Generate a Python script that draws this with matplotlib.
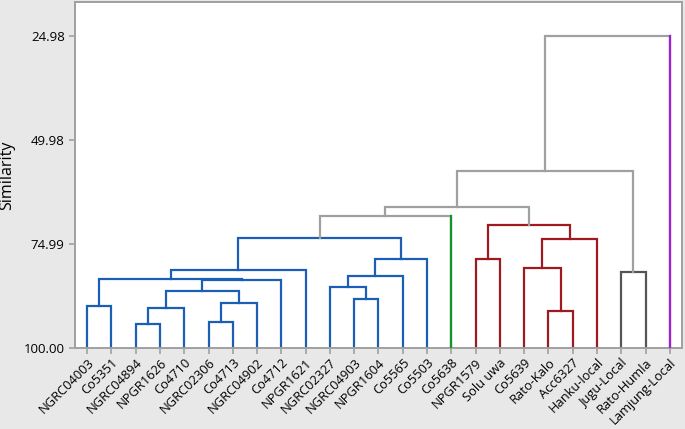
import matplotlib
matplotlib.use("Agg")
import matplotlib.pyplot as plt

plt.rcParams["font.family"] = ["Open Sans", "DejaVu Sans"]

# leaf labels, left to right
labels = [
    "NGRC04003", "Co5351", "NGRC04894", "NPGR1626", "Co4710", "NGRC02306",
    "Co4713", "NGRC04902", "Co4712", "NPGR1621", "NGRC02327", "NGRC04903",
    "NPGR1604", "Co5565", "Co5503", "Co5638", "NPGR1579", "Solu uwa",
    "Co5639", "Rato-Kalo", "Acc6327", "Hanku-local", "Jugu-Local",
    "Rato-Humla", "Lamjung-Local",
]
# cluster of each leaf
leaf_group = [0] * 15 + [1] + [2] * 6 + [3] * 2 + [4]

# merges: node 25 onwards joins merge_a[i] and merge_b[i] at merge_sim[i]
merge_a = [0, 2, 26, 5, 28, 27, 30, 25, 32, 11, 10, 35, 36, 33, 38,
           16, 19, 18, 42, 40, 39, 22, 45, 47]
merge_b = [1, 3, 4, 6, 7, 29, 8, 31, 9, 12, 34, 13, 14, 37, 15,
           17, 20, 41, 21, 43, 44, 23, 46, 24]
merge_sim = [89.90, 94.37, 90.52, 93.89, 89.17, 86.35, 83.71, 83.39, 81.30,
             88.28, 85.39, 82.74, 78.65, 73.72, 68.30,
             78.65, 91.10, 80.82, 73.77, 70.40, 66.21, 81.78, 57.47, 24.98]

yticks = [100.00, 74.99, 49.98, 24.98]

group_colors = ["#1a5eb5", "#13932a", "#a0191e", "#555555", "#a020d0"]
link_gray = "#a0a0a0"

fig = plt.figure(figsize=(6.85, 4.29), dpi=100, facecolor="#e8e8e8")
ax = fig.add_axes([0.1095, 0.1895, 0.886, 0.806])

n = len(labels)
xpos = list(range(n))
ypos = [100.0] * n
grp = list(leaf_group)
for a, b, s in zip(merge_a, merge_b, merge_sim):
    if grp[a] is not None and grp[a] == grp[b]:
        col = group_colors[grp[a]]
        g = grp[a]
    else:
        col = link_gray
        g = None
    ax.plot([xpos[a], xpos[a], xpos[b], xpos[b]], [ypos[a], s, s, ypos[b]],
            color=col, lw=1.6, solid_joinstyle="miter", zorder=2)
    xpos.append((xpos[a] + xpos[b]) / 2)
    ypos.append(s)
    grp.append(g)

# single-leaf clusters drawn in their own colour up to the first merge
for i in range(n):
    if leaf_group.count(leaf_group[i]) == 1:
        for a, b, s in zip(merge_a, merge_b, merge_sim):
            if i in (a, b):
                ax.plot([i, i], [100, s], color=group_colors[leaf_group[i]],
                        lw=1.6, zorder=3)
                break

ax.set_xlim(-0.5, n - 0.5)
ax.set_ylim(100, 16.8)
ax.set_yticks(yticks)
ax.set_yticklabels([f"{v:.2f}" for v in yticks], fontsize=9.5)
ax.set_xticks(range(n))
ax.set_xticklabels(labels, rotation=45, ha="right", rotation_mode="anchor",
                   fontsize=9.3)
ax.tick_params(axis="both", colors="#a0a0a0", labelcolor="black", length=4,
               width=1.2)
ax.tick_params(axis="x", pad=2)
for sp in ax.spines.values():
    sp.set_color("#a0a0a0")
    sp.set_linewidth(1.4)
ax.set_ylabel("Similarity", fontsize=11.5, labelpad=6)

fig.savefig("out.png", dpi=100, facecolor=fig.get_facecolor())
